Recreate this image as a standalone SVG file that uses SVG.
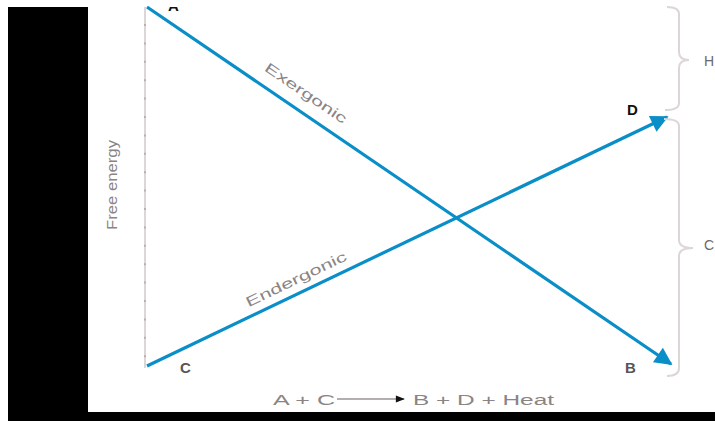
<svg xmlns="http://www.w3.org/2000/svg" width="715" height="421" viewBox="0 0 715 421">
<style>
.lbl{font-family:"Liberation Sans",Arial,sans-serif;fill:#8a8484;font-size:14px}
.pt{font-family:"Liberation Sans",Arial,sans-serif;fill:#5a5555;font-size:15px;font-weight:bold}
.ax{stroke:#ddd6d6;stroke-width:2;fill:none}
.tk{stroke:#b9b1b1;stroke-width:2;fill:none;stroke-dasharray:2 16.4}
.rx{stroke:#0a8ec8;stroke-width:3.2;fill:none}
</style>
<defs>
<marker id="ah" viewBox="0 0 10 10" refX="9" refY="5" markerWidth="8.5" markerHeight="5.5" orient="auto" markerUnits="strokeWidth">
<path d="M0,0 L10,5 L0,10 z" fill="#0a8ec8"/>
</marker>
<marker id="ah2" viewBox="0 0 10 10" refX="9" refY="5" markerWidth="9" markerHeight="6" orient="auto" markerUnits="strokeWidth">
<path d="M0,1 L10,5 L0,9 z" fill="#111"/>
</marker>
<clipPath id="top"><rect x="0" y="7" width="715" height="414"/></clipPath>
</defs>
<rect x="0" y="0" width="715" height="421" fill="#fff"/>
<rect x="8" y="7" width="80" height="414" fill="#000"/>
<rect x="88" y="412" width="627" height="9" fill="#000"/>

<g id="axis">
<line class="ax" x1="145" y1="7" x2="145" y2="368"/>
<line class="tk" x1="145" y1="24" x2="145" y2="368"/>
<text class="lbl" transform="translate(117,185) rotate(-90)" text-anchor="middle" textLength="90" lengthAdjust="spacingAndGlyphs">Free energy</text>
</g>

<g id="connectors">
<line id="exergonic" class="rx" x1="147" y1="7" x2="671" y2="364" marker-end="url(#ah)"/>
<line id="endergonic" class="rx" x1="147" y1="366" x2="667" y2="117" marker-end="url(#ah)"/>
</g>

<g id="label-exergonic">
<text class="lbl" transform="translate(306,93) rotate(34.3)" text-anchor="middle" y="5" textLength="96" lengthAdjust="spacingAndGlyphs">Exergonic</text>
</g>
<g id="label-endergonic">
<text class="lbl" transform="translate(296,279) rotate(-25.6)" text-anchor="middle" y="5" textLength="110" lengthAdjust="spacingAndGlyphs">Endergonic</text>
</g>

<g id="node-A" clip-path="url(#top)">
<text class="pt" x="168" y="11" style="fill:#111">A</text>
</g>
<g id="node-C"><text class="pt" x="180" y="373">C</text></g>
<g id="node-B"><text class="pt" x="625" y="373">B</text></g>
<g id="node-D"><text class="pt" x="627" y="115" style="fill:#111">D</text></g>

<g id="brace-top">
<path class="ax" d="M667,7 Q679,7 679,14 L679,52 Q679,60 689,60 Q679,60 679,68 L679,103 Q679,110 665,110"/>
<text class="lbl" x="704" y="66" style="fill:#6e6868">H</text>
</g>
<g id="brace-bottom">
<path class="ax" d="M664,119 Q679,119 679,126 L679,240 Q679,248 693,248 Q679,248 679,256 L679,368 Q679,376 667,376"/>
<text class="lbl" x="704" y="250" style="fill:#6e6868">C</text>
</g>

<g id="equation">
<text class="lbl" x="273" y="405" textLength="62" lengthAdjust="spacingAndGlyphs">A + C</text>
<line x1="337" y1="399" x2="404" y2="399" stroke="#9a9494" stroke-width="1.5" marker-end="url(#ah2)"/>
<text class="lbl" x="413" y="405" textLength="141" lengthAdjust="spacingAndGlyphs">B + D + Heat</text>
</g>
</svg>
